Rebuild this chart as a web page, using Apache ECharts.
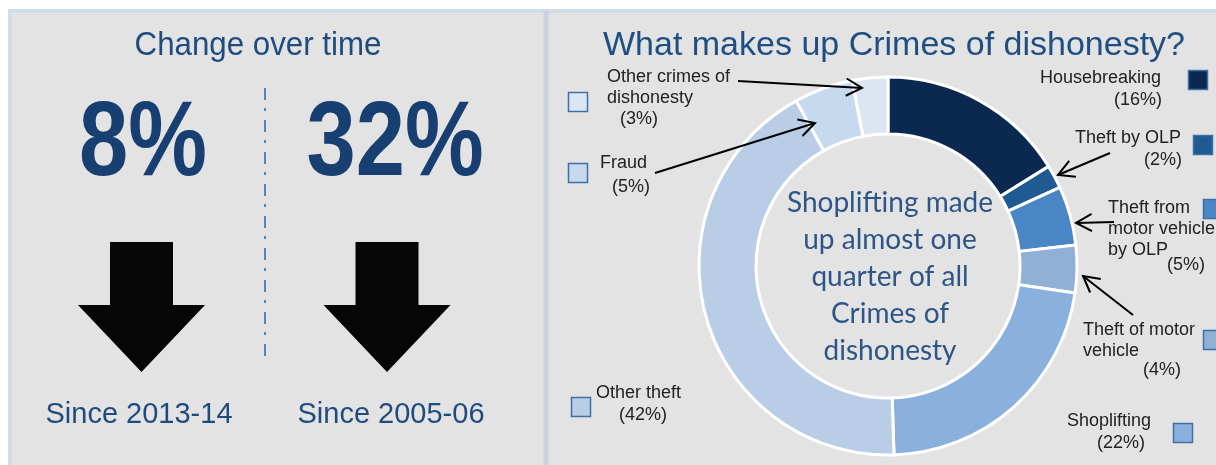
<!DOCTYPE html>
<html>
<head>
<meta charset="utf-8">
<script src="https://cdn.jsdelivr.net/npm/echarts@6/dist/echarts.min.js"></script>
<style>
  html, body { margin: 0; padding: 0; background: #ffffff; }
  #chart { width: 1216px; height: 465px; }
</style>
</head>
<body>
<div id="chart"></div>
<script>
// ---------------- DATA ----------------
const categories = ['Housebreaking', 'Theft by OLP', 'Theft from motor vehicle by OLP', 'Theft of motor vehicle', 'Shoplifting', 'Other theft', 'Fraud', 'Other crimes of dishonesty'];
const shares = [16, 2, 5, 4, 22, 42, 5, 3];
const changeValues = [8, 32];
const changePeriods = ['Since 2013-14', 'Since 2005-06'];
const leftTitle = 'Change over time';
const rightTitle = 'What makes up Crimes of dishonesty?';
const centerNote = 'Shoplifting made\nup almost one\nquarter of all\nCrimes of\ndishonesty';

// ---------------- STYLE / LAYOUT ----------------
const sliceColors = ['#0b2950', '#1f5a93', '#4a86c6', '#90b0d6', '#8ab0de', '#b9cde6', '#c7d9ee', '#dce6f2'];
// words per line, anchor of name, anchor of value, legend square centre, arrow (from -> to)
const annLayout = [
  { words: [1],       align: 'right', nx: 1161, ny: 78,  vx: 1162, vy: 100, valign: 'right', sq: [1198, 80] },
  { words: [3],       align: 'right', nx: 1181, ny: 138, vx: 1182, vy: 160, valign: 'right', sq: [1203, 145], arrow: [1110, 153, 1058, 175] },
  { words: [2, 2, 2], align: 'left',  nx: 1108, ny: 208, vx: 1167, vy: 265, valign: 'left',  sq: [1213, 209], arrow: [1114, 222, 1076, 223] },
  { words: [3, 1],    align: 'left',  nx: 1083, ny: 330, vx: 1143, vy: 370, valign: 'left',  sq: [1213, 340], arrow: [1133, 315, 1083, 276] },
  { words: [1],       align: 'left',  nx: 1067, ny: 421, vx: 1097, vy: 443, valign: 'left',  sq: [1183, 433] },
  { words: [2],       align: 'left',  nx: 596,  ny: 393, vx: 619,  vy: 415, valign: 'left',  sq: [581, 407] },
  { words: [1],       align: 'left',  nx: 600,  ny: 163, vx: 612,  vy: 187, valign: 'left',  sq: [578, 173], arrow: [655, 173, 815, 123] },
  { words: [3, 1],    align: 'left',  nx: 607,  ny: 77,  vx: 620,  vy: 119, valign: 'left',  sq: [578, 102], arrow: [738, 81, 862, 88] }
];
const labelFont = '18px "Liberation Sans", Arial, sans-serif';
const labelColor = '#222222';
const lineGap = 21;

function splitWords(name, counts) {
  const w = name.split(' ');
  const out = []; let i = 0;
  counts.forEach(c => { out.push(w.slice(i, i + c).join(' ')); i += c; });
  return out;
}
function txt(x, y, text, font, fill, align, vAlign, extra) {
  return Object.assign({
    type: 'text', x: x, y: y, silent: true,
    style: { text: text, font: font, fill: fill, align: align, textAlign: align, verticalAlign: vAlign || 'middle', textVerticalAlign: vAlign || 'middle' }
  }, extra || {});
}
function arrowEls(x1, y1, x2, y2) {
  const ang = Math.atan2(y2 - y1, x2 - x1);
  const L = 18, a = 0.5;
  const p1 = [x2 - L * Math.cos(ang - a), y2 - L * Math.sin(ang - a)];
  const p2 = [x2 - L * Math.cos(ang + a), y2 - L * Math.sin(ang + a)];
  return [
    { type: 'line', silent: true, z: 50, shape: { x1: x1, y1: y1, x2: x2, y2: y2 }, style: { stroke: '#000', lineWidth: 2 } },
    { type: 'polyline', silent: true, z: 50, shape: { points: [p1, [x2, y2], p2] }, style: { stroke: '#000', lineWidth: 2, fill: null } }
  ];
}

const g = [];
// panels
g.push({ type: 'rect', silent: true, z: -10, shape: { x: 10, y: 11, width: 1230, height: 470 }, style: { fill: '#e3e3e3', stroke: '#d3dde8', lineWidth: 4 } });
g.push({ type: 'line', silent: true, z: -9, shape: { x1: 546, y1: 11, x2: 546, y2: 470 }, style: { stroke: '#c8d3df', lineWidth: 5 } });

// left panel
g.push(txt(258, 46, leftTitle, '34px "Liberation Sans", Arial, sans-serif', '#1f4b7e', 'center', 'middle', { scaleX: 0.92 }));
g.push({ type: 'line', silent: true, shape: { x1: 265, y1: 88, x2: 265, y2: 360 }, style: { stroke: '#4f86c6', lineWidth: 2, lineDash: [12, 8, 3, 9] } });
const bigX = [143, 395];
const arrowCx = [141.5, 387];
changeValues.forEach((v, i) => {
  g.push(txt(bigX[i], 146, v + '%', 'bold 106px "Liberation Sans", Arial, sans-serif', '#173f72', 'center', 'middle', { scaleX: 0.835 }));
  const cx = arrowCx[i];
  g.push({ type: 'polygon', silent: true, shape: { points: [[cx - 31.5, 242], [cx + 31.5, 242], [cx + 31.5, 305], [cx + 63.5, 305], [cx, 372], [cx - 63.5, 305], [cx - 31.5, 305]] }, style: { fill: '#060606' } });
  g.push(txt(bigX[i] - 4, 415, changePeriods[i], '29px "Liberation Sans", Arial, sans-serif', '#1f4b7e', 'center', 'middle'));
});

// right panel
g.push(txt(894, 46, rightTitle, '34px "Liberation Sans", Arial, sans-serif', '#1f4e82', 'center', 'middle'));
g.push(txt(890, 277, centerNote, '28px Lato, "Open Sans", sans-serif', '#2d5587', 'center', 'middle', { style: { text: centerNote, font: '28px Lato, "Open Sans", sans-serif', fill: '#2d5587', align: 'center', textAlign: 'center', verticalAlign: 'middle', textVerticalAlign: 'middle', lineHeight: 37 } }));

categories.forEach((name, i) => {
  const L = annLayout[i];
  const lines = splitWords(name, L.words);
  lines.forEach((ln, k) => g.push(txt(L.nx, L.ny + k * lineGap, ln, labelFont, labelColor, L.align, 'middle')));
  g.push(txt(L.vx, L.vy, '(' + shares[i] + '%)', labelFont, labelColor, L.valign, 'middle'));
  g.push({ type: 'rect', silent: true, shape: { x: L.sq[0] - 9.5, y: L.sq[1] - 9.5, width: 19, height: 19 }, style: { fill: sliceColors[i], stroke: '#3f6fa6', lineWidth: 1.5 } });
  if (L.arrow) arrowEls.apply(null, L.arrow).forEach(e => g.push(e));
});

const chart = echarts.init(document.getElementById('chart'), null, { renderer: 'canvas' });
chart.setOption({
  backgroundColor: '#ffffff',
  animation: false,
  graphic: { elements: g },
  series: [{
    type: 'pie',
    center: [888, 266],
    radius: [132, 189],
    startAngle: 90,
    clockwise: true,
    silent: true,
    z: 2,
    label: { show: false },
    labelLine: { show: false },
    emphasis: { disabled: true },
    itemStyle: { borderColor: '#ffffff', borderWidth: 3 },
    data: categories.map((c, i) => ({ name: c, value: shares[i], itemStyle: { color: sliceColors[i] } }))
  }]
});
</script>
</body>
</html>
